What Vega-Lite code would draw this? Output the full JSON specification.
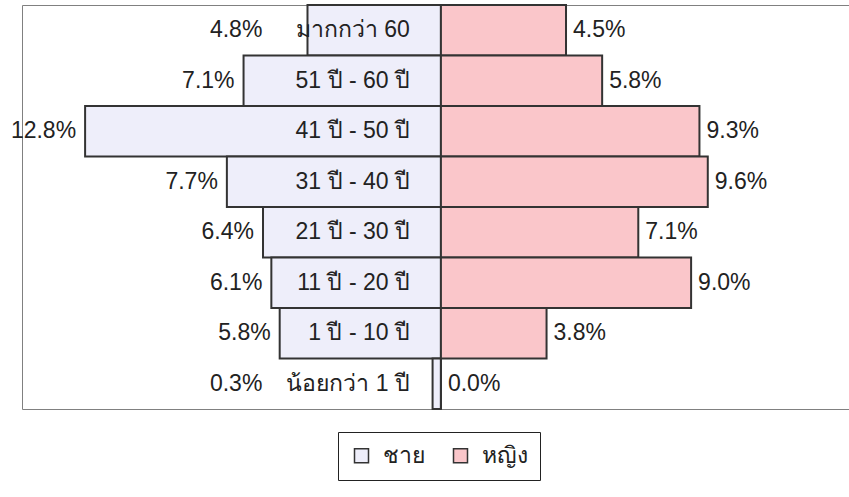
{
  "$schema": "https://vega.github.io/schema/vega-lite/v6.json",
  "autosize": {"type": "none"},
  "padding": {"left": 22, "top": 5, "right": 0, "bottom": 88},
  "width": 827,
  "height": 404,
  "background": "white",
  "config": {
    "view": {"stroke": "#808080", "strokeWidth": 1},
    "font": "Liberation Sans"
  },
  "data": {
    "values": [
      {"age": "มากกว่า 60", "sex": "ชาย", "pct": 4.8},
      {"age": "51 ปี - 60 ปี", "sex": "ชาย", "pct": 7.1},
      {"age": "41 ปี - 50 ปี", "sex": "ชาย", "pct": 12.8},
      {"age": "31 ปี - 40 ปี", "sex": "ชาย", "pct": 7.7},
      {"age": "21 ปี - 30 ปี", "sex": "ชาย", "pct": 6.4},
      {"age": "11 ปี - 20 ปี", "sex": "ชาย", "pct": 6.1},
      {"age": "1 ปี - 10 ปี", "sex": "ชาย", "pct": 5.8},
      {"age": "น้อยกว่า 1 ปี", "sex": "ชาย", "pct": 0.3},
      {"age": "มากกว่า 60", "sex": "หญิง", "pct": 4.5},
      {"age": "51 ปี - 60 ปี", "sex": "หญิง", "pct": 5.8},
      {"age": "41 ปี - 50 ปี", "sex": "หญิง", "pct": 9.3},
      {"age": "31 ปี - 40 ปี", "sex": "หญิง", "pct": 9.6},
      {"age": "21 ปี - 30 ปี", "sex": "หญิง", "pct": 7.1},
      {"age": "11 ปี - 20 ปี", "sex": "หญิง", "pct": 9.0},
      {"age": "1 ปี - 10 ปี", "sex": "หญิง", "pct": 3.8},
      {"age": "น้อยกว่า 1 ปี", "sex": "หญิง", "pct": 0.0}
    ]
  },
  "transform": [
    {"calculate": "datum.sex == 'ชาย' ? -datum.pct : datum.pct", "as": "signed"},
    {"calculate": "datum.sex == 'ชาย' && datum.pct < 5 ? -6.1 : datum.signed", "as": "labelAt"},
    {"calculate": "format(datum.pct, '.1f') + '%'", "as": "label"}
  ],
  "encoding": {
    "y": {
      "field": "age",
      "type": "nominal",
      "sort": null,
      "scale": {"paddingInner": 0, "paddingOuter": 0},
      "axis": null
    }
  },
  "layer": [
    {
      "mark": {"type": "bar", "stroke": "#333333", "strokeWidth": 2},
      "encoding": {
        "x": {
          "field": "signed",
          "type": "quantitative",
          "scale": {"domain": [-15.07, 14.68], "nice": false, "zero": false},
          "axis": null
        },
        "color": {
          "field": "sex",
          "type": "nominal",
          "scale": {"domain": ["ชาย", "หญิง"], "range": ["#EEEEFA", "#FAC6CA"]},
          "legend": {
            "title": null,
            "orient": "none",
            "direction": "horizontal",
            "legendX": 316,
            "legendY": 427,
            "padding": 12,
            "strokeColor": "#222222",
            "fillColor": "white",
            "symbolType": "square",
            "symbolSize": 196,
            "symbolStrokeColor": "#333333",
            "symbolStrokeWidth": 1.5,
            "symbolOpacity": 1,
            "labelFontSize": 23,
            "labelColor": "#222222",
            "labelFont": "Liberation Sans",
            "labelOffset": 10,
            "columnPadding": 24
          }
        }
      }
    },
    {
      "transform": [{"filter": "datum.sex == 'ชาย'"}],
      "mark": {"type": "text", "align": "right", "baseline": "middle", "dx": -9, "fontSize": 23, "color": "#222222"},
      "encoding": {
        "x": {"field": "labelAt", "type": "quantitative"},
        "text": {"field": "label"}
      }
    },
    {
      "transform": [{"filter": "datum.sex == 'หญิง'"}],
      "mark": {"type": "text", "align": "left", "baseline": "middle", "dx": 7, "fontSize": 23, "color": "#222222"},
      "encoding": {
        "x": {"field": "labelAt", "type": "quantitative"},
        "text": {"field": "label"}
      }
    },
    {
      "transform": [{"filter": "datum.sex == 'ชาย'"}],
      "mark": {"type": "text", "align": "right", "baseline": "middle", "dx": -31, "fontSize": 23, "color": "#222222"},
      "encoding": {
        "x": {"datum": 0, "type": "quantitative"},
        "text": {"field": "age"}
      }
    }
  ]
}
